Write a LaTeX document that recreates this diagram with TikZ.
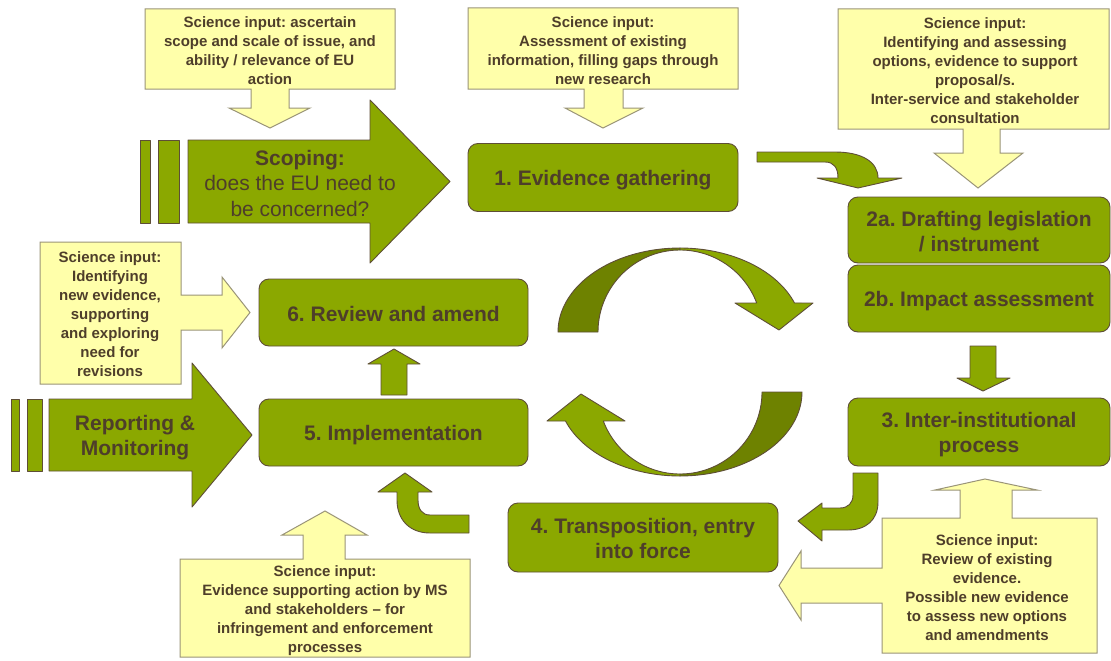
\documentclass[tikz,border=0pt]{standalone}
\usepackage{fontspec}
\setmainfont{Liberation Sans}
\frenchspacing
\definecolor{leaf}{HTML}{8BA800}
\definecolor{leafdark}{HTML}{6E8200}
\definecolor{rim}{HTML}{5E4E36}
\definecolor{ink}{HTML}{4E3E2A}
\definecolor{note}{HTML}{FFFFAA}
\definecolor{noterim}{HTML}{9A9478}
\begin{document}
\begin{tikzpicture}[x=1pt,y=-1pt,
  block/.style={fill=leaf,draw=rim,line width=0.9pt,line join=round},
  backblock/.style={fill=leafdark,draw=rim,line width=0.9pt,line join=round},
  callout/.style={fill=note,draw=noterim,line width=1pt},
  stepbox/.style={block,rounded corners=10pt,minimum width=270pt,minimum height=68pt,inner sep=0pt},
  steptext/.style={align=center,text=ink,inner sep=0pt,font=\fontsize{21}{25}\selectfont\bfseries},
  notetext/.style={align=center,text=ink,inner sep=0pt,
    font=\fontsize{15}{19}\selectfont\bfseries},
  bigtext/.style={align=center,text=ink,inner sep=0pt,font=\fontsize{21}{25.5}\selectfont}]

\useasboundingbox[fill=white] (0,0) rectangle (1111,661);

% ---- science-input callouts (box plus pointer arrow) ----
\draw[callout] (145,9) -- (395,9) -- (395,89) -- (289,89) -- (289,108) -- (310,108)
  -- (270,128) -- (229,108) -- (251,108) -- (251,89) -- (145,89) -- cycle;
\node[notetext] (nscope) at (270,50.5) {Science input: ascertain\\scope and scale of issue, and\\ability / relevance of EU\\action};

\draw[callout] (468,8) -- (738,8) -- (738,89) -- (623,89) -- (623,108) -- (643,108)
  -- (603,128) -- (565,108) -- (584,108) -- (584,89) -- (468,89) -- cycle;
\node[notetext] (nevid) at (603,50.5) {Science input:\\Assessment of existing\\information, filling gaps through\\new research};

\draw[callout] (838,9) -- (1109,9) -- (1109,129) -- (1000,129) -- (1000,153) -- (1023,153)
  -- (978,188) -- (934,153) -- (963,153) -- (963,129) -- (838,129) -- cycle;
\node[notetext] (ndraft) at (975,70.5) {Science input:\\Identifying and assessing\\options, evidence to support\\proposal/s.\\Inter-service and stakeholder\\consultation};

\draw[callout] (40,242) -- (181,242) -- (181,295) -- (222,295) -- (222,277) -- (250,312.5)
  -- (222,348) -- (222,330) -- (181,330) -- (181,384) -- (40,384) -- cycle;
\node[notetext] (nreview) at (110,314) {Science input:\\Identifying\\new evidence,\\supporting\\and exploring\\need for\\revisions};

\draw[callout] (180,559) -- (303,559) -- (303,535) -- (282,535) -- (325,511) -- (367,535)
  -- (345,535) -- (345,559) -- (470,559) -- (470,657) -- (180,657) -- cycle;
\node[notetext] (nimpl) at (325,611) {Science input:\\Evidence supporting action by MS\\and stakeholders -- for\\infringement and enforcement\\processes};

\draw[callout] (882,518) -- (960,518) -- (960,490) -- (935,490) -- (985,479) -- (1037,490)
  -- (1012,490) -- (1012,518) -- (1097,518) -- (1097,653) -- (882,653) -- (882,603)
  -- (801,603) -- (801,620) -- (779,585.5) -- (801,551) -- (801,568) -- (882,568) -- cycle;
\node[notetext] (ninter) at (987,588) {Science input:\\Review of existing\\evidence.\\Possible new evidence\\to assess new options\\and amendments};

% ---- entry arrows ----
\draw[block] (140,140) rectangle (150,223);
\draw[block] (158,140) rectangle (179,223);
\draw[block] (188,140) -- (370,140) -- (370,100) -- (450,181.5) -- (370,263) -- (370,223)
  -- (188,223) -- cycle;
\node[bigtext] (scoping) at (300,183) {\textbf{Scoping:}\\does the EU need to\\be concerned?};

\draw[block] (11,399) rectangle (19,471);
\draw[block] (27,399) rectangle (42,471);
\draw[block] (49,399) -- (192,399) -- (192,363) -- (252,435) -- (192,507) -- (192,471)
  -- (49,471) -- cycle;
\node[bigtext,font=\fontsize{21}{25}\selectfont\bfseries] (report) at (135,438) {Reporting \&\\Monitoring};

% ---- process steps ----
\node[stepbox] (ev) at (603,177.5) {};
\node[stepbox,minimum width=262pt,minimum height=66pt] (draft) at (979,230) {};
\node[stepbox,minimum width=262pt,minimum height=67pt] (impact) at (979,298.5) {};
\node[stepbox,minimum width=262pt] (inter) at (979,432) {};
\node[stepbox,minimum height=69pt] (transp) at (643,537.5) {};
\node[stepbox,minimum width=269pt,minimum height=67pt] (impl) at (393.5,432.5) {};
\node[stepbox,minimum width=269pt,minimum height=67pt] (review) at (393.5,312.5) {};

\node[steptext] (evtext) at ([yshift=-2.5pt]ev.center) {1. Evidence gathering};
\node[steptext] (drafttext) at ([yshift=-2pt]draft.center) {2a. Drafting legislation\\/ instrument};
\node[steptext] (impacttext) at ([yshift=-2.5pt]impact.center) {2b. Impact assessment};
\node[steptext] (intertext) at ([yshift=-2.5pt]inter.center) {3. Inter-institutional\\process};
\node[steptext] (transptext) at ([yshift=-1pt]transp.center) {4. Transposition, entry\\into force};
\node[steptext] (impltext) at ([yshift=-2.5pt]impl.center) {5. Implementation};
\node[steptext] (reviewtext) at ([yshift=-1pt]review.center) {6. Review and amend};

% ---- block arrows between steps ----
% 1 -> 2a
\draw[block] (757,152) -- (835,152) .. controls (862,152) and (878,162) .. (878,178)
  -- (902,178) -- (858,188) -- (817,178) -- (838,178)
  .. controls (838,168) and (834,162) .. (825,162) -- (757,162) -- cycle;
% 2b -> 3
\draw[block] (970,346) -- (996,346) -- (996,378) -- (1010,378) -- (983,391) -- (957,378)
  -- (970,378) -- cycle;
% 3 -> 4
\draw[block] (853,473) -- (878,473) -- (878,502) .. controls (878,520) and (866,530) .. (848,530)
  -- (822,530) -- (822,541) -- (798,521) -- (822,503) -- (822,508) -- (840,508)
  .. controls (848,508) and (853,503) .. (853,495) -- cycle;
% 4 -> 5
\draw[block] (469,515) -- (430,515) .. controls (422,515) and (418,509) .. (418,500)
  -- (418,492) -- (432,492) -- (405,473) -- (378,492) -- (397,492) -- (397,500)
  .. controls (397,520) and (410,533) .. (430,533) -- (469,533) -- cycle;
% 5 -> 6
\draw[block] (381,395) -- (381,364) -- (368,364) -- (394,349) -- (420,364) -- (407,364)
  -- (407,395) -- cycle;

% ---- central cycle of two curved arrows ----
\foreach \turn in {0,180}{
  \begin{scope}[rotate around={\turn:(680,362)}]
    \draw[backblock] plot[domain=180:90,samples=40] ({680+122*cos(\x)},{332-84*sin(\x)})
      -- plot[domain=90:180,samples=40] ({680+82*cos(\x)},{332-82*sin(\x)}) -- cycle;
    \draw[block] plot[domain=90:20.2,samples=40] ({680+122*cos(\x)},{332-84*sin(\x)})
      -- (813,303) -- (779,330) -- (735,303)
      -- plot[domain=20.7:90,samples=40] ({680+82*cos(\x)},{332-82*sin(\x)}) -- cycle;
  \end{scope}
}
\end{tikzpicture}
\end{document}
